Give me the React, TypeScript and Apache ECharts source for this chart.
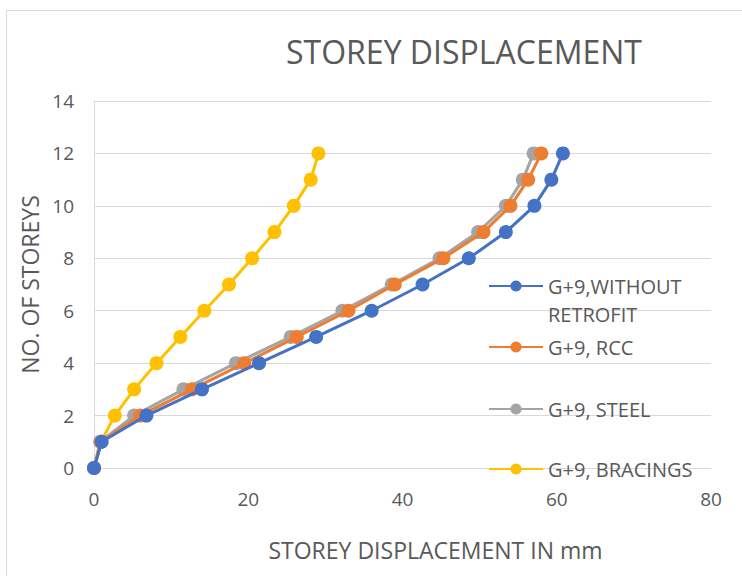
import React, { useEffect, useRef } from "react";
import * as echarts from "echarts";

const storeys = [0, 1, 2, 3, 4, 5, 6, 7, 8, 9, 10, 11, 12];
const withoutRetrofit = [0, 1.0, 6.8, 14.0, 21.4, 28.8, 36.0, 42.6, 48.6, 53.4, 57.1, 59.3, 60.8];
const rcc = [0, 0.9, 6.0, 12.7, 19.5, 26.3, 33.0, 39.0, 45.3, 50.5, 54.0, 56.3, 58.0];
const steel = [0, 0.8, 5.2, 11.6, 18.4, 25.5, 32.2, 38.6, 44.8, 49.8, 53.4, 55.6, 57.0];
const bracings = [0, 0.9, 2.7, 5.2, 8.1, 11.2, 14.3, 17.5, 20.5, 23.4, 25.9, 28.1, 29.1];

const seriesNames = ["G+9,WITHOUT RETROFIT", "G+9, RCC", "G+9, STEEL", "G+9, BRACINGS"];
const legendLabels = ["\nG+9,WITHOUT\nRETROFIT", "G+9, RCC", "G+9, STEEL", "G+9, BRACINGS"];
const colors = ["#4472C4", "#ED7D31", "#A5A5A5", "#FFC000"];
const xTicks = [0, 20, 40, 60, 80];
const yTicks = [0, 2, 4, 6, 8, 10, 12, 14];

const FONT = "Open Sans";
const TXT = "#595959";

export default function App() {
  const ref = useRef<HTMLDivElement>(null);
  useEffect(() => {
    if (!ref.current) return;
    const chart = echarts.init(ref.current, undefined, { renderer: "svg" });
    const allData = [withoutRetrofit, rcc, steel, bracings];
    const legendTops = [244, 333, 395, 455];
    chart.setOption({
      animation: false,
      backgroundColor: "#ffffff",
      title: {
        text: "STOREY DISPLACEMENT",
        left: 459,
        top: 30,
        textAlign: "center",
        textStyle: { fontFamily: FONT, fontSize: 32, fontWeight: "normal", color: TXT },
      },
      graphic: [
        {
          type: "rect",
          shape: { x: 6.5, y: 10.5, width: 800, height: 700 },
          style: { fill: "none", stroke: "#d9d9d9", lineWidth: 1 },
          silent: true,
          z: -1,
        },
      ],
      grid: { left: 94, right: 31, top: 101, bottom: 108 },
      xAxis: {
        type: "value",
        min: xTicks[0],
        max: xTicks[xTicks.length - 1],
        interval: 20,
        name: "STOREY DISPLACEMENT IN mm",
        nameLocation: "middle",
        nameGap: 70,
        nameTextStyle: { fontFamily: FONT, fontSize: 23, color: TXT, padding: [0, 0, 0, 66] },
        axisLine: { show: true, lineStyle: { color: "#d9d9d9", width: 1 } },
        axisTick: { show: false },
        splitLine: { show: false },
        axisLabel: { fontFamily: FONT, fontSize: 19, color: TXT, margin: 21 },
      },
      yAxis: {
        type: "value",
        min: yTicks[0],
        max: yTicks[yTicks.length - 1],
        interval: 2,
        name: "NO. OF STOREYS",
        nameLocation: "middle",
        nameGap: 48,
        nameRotate: 90,
        nameTextStyle: { fontFamily: FONT, fontSize: 23, color: TXT },
        axisLine: { show: true, lineStyle: { color: "#d9d9d9", width: 1 } },
        axisTick: { show: false },
        splitLine: { show: true, lineStyle: { color: "#d9d9d9", width: 1 } },
        axisLabel: { fontFamily: FONT, fontSize: 19, color: TXT, margin: 20 },
      },
      legend: seriesNames.map((n, i) => ({
        data: [n],
        orient: "vertical",
        left: 488,
        top: legendTops[i],
        padding: 0,
        itemWidth: 54,
        itemHeight: 14,
        itemGap: 0,
        formatter: () => legendLabels[i],
        textStyle: {
          fontFamily: FONT,
          fontSize: 20,
          color: TXT,
          lineHeight: 28,
        },
      })),
      series: seriesNames.map((n, i) => ({
        name: n,
        type: "line",
        data: allData[i].map((x, j) => [x, storeys[j]]),
        color: colors[i],
        symbol: "circle",
        symbolSize: 14,
        lineStyle: { width: 3, color: colors[i] },
        itemStyle: { color: colors[i] },
        z: 2 + (3 - i),
      })),
    });
    return () => chart.dispose();
  }, []);
  return <div ref={ref} style={{ position: "fixed", left: 0, top: 0, width: 742, height: 576 }} />;
}
